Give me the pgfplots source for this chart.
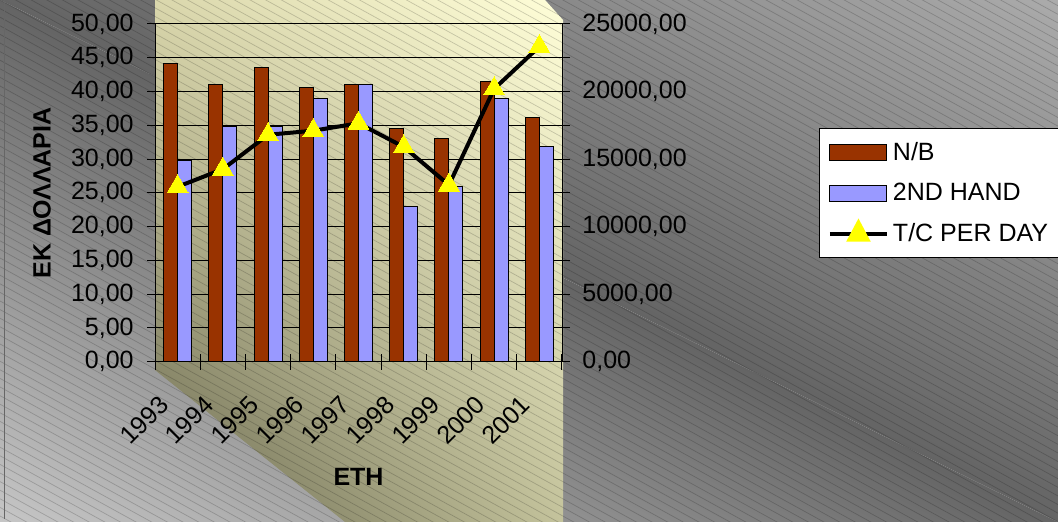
\documentclass[border=0pt]{standalone}
\usepackage{pgfplots}
\pgfplotsset{compat=1.18}
\usepackage{pgfplotstable}
\usetikzlibrary{shadings}
\usepackage{fontspec}
\setmainfont{Liberation Sans}
\definecolor{nb}{HTML}{993300}
\definecolor{sh}{HTML}{9999FF}
\definecolor{mk}{HTML}{FFFF00}
\definecolor{bgL}{HTML}{C6C6C6}
\definecolor{bgD}{HTML}{646464}
\definecolor{bgXa}{HTML}{020202}
\definecolor{bgC}{HTML}{ABABAB}
\definecolor{bgXb}{HTML}{1D1D1D}
\definecolor{plUL}{HTML}{DAD7AC}
\definecolor{plUR}{HTML}{FFFED8}
\definecolor{plLL}{HTML}{68674E}
\definecolor{plLR}{HTML}{C4C39C}
\pgfplotstableread{
x nb sh tc
0 44.1 29.8 12950
1 41.1 34.8 14250
2 43.5 34.8 16800
3 40.6 39.0 17100
4 41.1 41.0 17650
5 34.6 23.0 15900
6 33.1 26.0 13080
7 41.5 39.0 20200
8 36.1 31.9 23330
}\datatable
\begin{document}
\begin{tikzpicture}
\useasboundingbox (0pt,0pt) rectangle (529pt,261pt);
\begin{scope}[shift={(0pt,261pt)}, x=0.5pt, y=-0.5pt]
  \shade[upper left=bgD, upper right=bgXa, lower left=bgL, lower right=bgD] (0,0) -- (0,522) -- (1058,522) -- cycle;
  \shade[upper left=bgD, upper right=bgC, lower left=bgXb, lower right=bgD] (0,0) -- (1058,0) -- (1058,522) -- cycle;
  \shade[upper left=plUL, upper right=plUR, lower left=plLL, lower right=plLR] (155,0) -- (545,0) -- (563,20) -- (563,522) -- (345,522) -- (155,370) -- cycle;
  \begin{scope}
    \clip (0,0) rectangle (1058,522);
    \foreach \i in {-70,...,62} {
      \draw[black, opacity=0.18, line width=0.35pt] (0,{\i*8.6}) -- (1058,{\i*8.6+582});
    }
  \end{scope}
  \draw[black!60, line width=0.5pt] (4.5,0) -- (4.5,519);
\end{scope}
\pgfplotsset{
  myfont/.style={font=\fontsize{12.5}{15}\selectfont},
}
\begin{axis}[
  at={(77.5pt,80.15pt)}, anchor=south west,
  scale only axis, width=203.5pt, height=168.85pt,
  xmin=-0.5, xmax=8.5, ymin=0, ymax=50,
  axis x line*=bottom, axis y line*=left,
  axis line style={black, line width=0.5pt},
  tick align=center, major tick length=8pt,
  tick style={black, line width=0.5pt},
  xtick={-0.5,0.5,...,8.5}, xticklabels={},
  extra x ticks={0,1,2,3,4,5,6,7,8},
  extra x tick labels={1993,1994,1995,1996,1997,1998,1999,2000,2001},
  extra x tick style={major tick length=0pt},
  xticklabel style={myfont, inner sep=0pt, xshift=-6.7pt, yshift=-19.3pt, rotate=45, anchor=east},
  ytick={0,5,...,50},
  yticklabel style={myfont, inner sep=0pt, xshift=-6.5pt, anchor=east},
  /pgf/number format/.cd, fixed, fixed zerofill, precision=2, use comma, 1000 sep={}, assume math mode=true,
  /pgfplots/.cd,
  ymajorgrids, grid style={black, line width=0.5pt},
  ylabel={ΕΚ ΔΟΛΛΑΡΙΑ},
  ylabel style={at={(axis description cs:-0.2776,0.5)}, anchor=center, font=\fontsize{12.5}{15}\selectfont\bfseries},
  xlabel={ΕΤΗ},
  xlabel style={at={(axis description cs:0.5,-0.3405)}, anchor=center, font=\fontsize{12.5}{15}\selectfont\bfseries},
]
\addplot[ybar, bar width=7pt, bar shift=-3.5pt, fill=nb, draw=black, line width=0.5pt] table[x=x,y=nb]{\datatable};
\addplot[ybar, bar width=7pt, bar shift=3.5pt, fill=sh, draw=black, line width=0.5pt] table[x=x,y=sh]{\datatable};
\end{axis}
\begin{axis}[
  at={(77.5pt,80.15pt)}, anchor=south west,
  scale only axis, width=203.5pt, height=168.85pt,
  xmin=-0.5, xmax=8.5, ymin=0, ymax=25000,
  hide x axis, axis y line*=right,
  axis line style={black, line width=0.5pt},
  tick align=center, major tick length=8pt, minor tick length=8pt,
  tick style={black, line width=0.5pt},
  ytick={0,5000,...,25000},
  minor ytick={2500,7500,...,22500},
  yticklabel style={myfont, inner sep=0pt, xshift=6pt, anchor=west},
  scaled y ticks=false,
  /pgf/number format/.cd, fixed, fixed zerofill, precision=2, use comma, 1000 sep={}, assume math mode=true,
  /pgfplots/.cd,
  legend style={at={(axis description cs:1.6314,0.6911)}, anchor=north west, draw=black, line width=0.5pt, fill=white, font=\fontsize{12.5}{15}\selectfont, row sep=5.8pt, inner xsep=4.25pt, inner ysep=4.8pt},
  legend cell align=left,
]
\addlegendimage{legend image code/.code={\draw[fill=nb, draw=black, line width=0.5pt] (0pt,-4pt) rectangle (28.5pt,4pt);}}
\addlegendentry{N/B}
\addlegendimage{legend image code/.code={\draw[fill=sh, draw=black, line width=0.5pt] (0pt,-4pt) rectangle (28.5pt,4pt);}}
\addlegendentry{2ND HAND}
\addplot[black, line width=2pt, mark=triangle*, mark size=6pt, mark options={fill=mk, draw=mk, line width=0pt},
  legend image code/.code={\draw[black, line width=2pt] (0pt,0pt) -- (28.5pt,0pt); \fill[mk] (9.75pt,-3pt) -- (18.75pt,-3pt) -- (14.25pt,5.5pt) -- cycle;}]
  table[x=x,y=tc]{\datatable};
\addlegendentry{T/C PER DAY}
\end{axis}
\end{tikzpicture}
\end{document}
